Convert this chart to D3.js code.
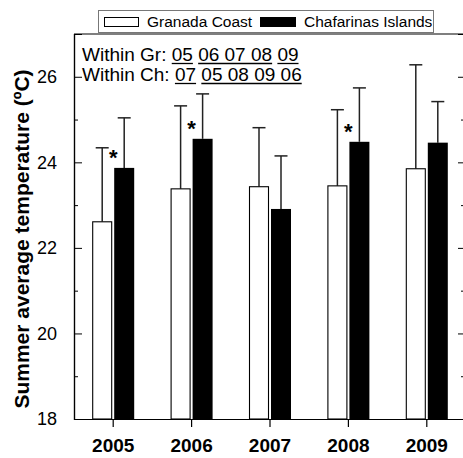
<!DOCTYPE html>
<html>
<head>
<meta charset="utf-8">
<script src="https://cdn.jsdelivr.net/npm/d3@7"></script>
<style>
  html, body { margin: 0; padding: 0; background: #fff; }
  svg { display: block; }
  text { font-family: "Liberation Sans", Arial, Helvetica, sans-serif; }
</style>
</head>
<body>
<svg id="chart" width="463" height="458"></svg>
<script>
// ---- data ----
const years = ["2005", "2006", "2007", "2008", "2009"];
const granadaMean = [22.61, 23.38, 23.43, 23.45, 23.85];
const granadaErr  = [1.73, 1.94, 1.38, 1.78, 2.43];
const chafMean    = [23.87, 24.55, 22.91, 24.48, 24.46];
const chafErr     = [1.17, 1.05, 1.24, 1.26, 0.96];
const significant = [true, true, false, true, false];
const seriesNames = ["Granada Coast", "Chafarinas Islands"];
const yMajorTicks = [18, 20, 22, 24, 26];
const yMinorTicks = [19, 21, 23, 25];
const withinGr = [["05"], ["06", "07", "08"], ["09"]];
const withinCh = [["07"], ["05", "08", "09", "06"]];

(function () {
// ---- layout ----
const svg = d3.select("#chart");
const pLeft = 74, pRight = 466, pTop = 34, pBottom = 419;

const x = d3.scaleBand().domain(years).range([pLeft, pRight]).padding(0);
const y = d3.scaleLinear().domain([18, 27]).range([pBottom, pTop]);

const barW = 20, gap = 1;

// frame top line
svg.append("line").attr("x1", pLeft).attr("x2", pRight).attr("y1", pTop).attr("y2", pTop)
  .attr("stroke", "#000").attr("stroke-width", 1.2);

// left axis (inner ticks)
const gL = svg.append("g").attr("transform", `translate(${pLeft},0)`);
gL.call(d3.axisLeft(y).tickValues(yMajorTicks).tickSize(-8).tickPadding(17).tickFormat(d3.format("d")));
gL.append("g").call(d3.axisLeft(y).tickValues(yMinorTicks).tickSize(-4).tickFormat(""));
gL.selectAll(".domain").attr("stroke-width", 1.2);
gL.selectAll("text").attr("font-size", 18).attr("fill", "#000")
  .style("font-family", '"Liberation Sans", Arial, sans-serif');

// right axis (inner ticks, no labels)
const gR = svg.append("g").attr("transform", `translate(${pRight},0)`);
gR.call(d3.axisRight(y).tickValues(yMajorTicks).tickSize(-8).tickFormat(""));
gR.append("g").call(d3.axisRight(y).tickValues(yMinorTicks).tickSize(-5).tickFormat(""));

// bottom axis
const gB = svg.append("g").attr("transform", `translate(0,${pBottom})`);
gB.call(d3.axisBottom(x).tickSize(8).tickPadding(12).tickSizeOuter(0));
gB.selectAll(".domain").attr("stroke-width", 1.2);
gB.selectAll("text").attr("font-size", 19).attr("font-weight", "bold").attr("fill", "#000")
  .style("font-family", '"Liberation Sans", Arial, sans-serif');
gB.selectAll(".tick line").attr("stroke-width", 1.2);

// bars
const cx = d => x(d) + x.bandwidth() / 2;
const gBars = svg.append("g");
years.forEach((yr, i) => {
  const c = cx(yr);
  // Granada (white)
  const wx = c - gap - barW;
  gBars.append("line")
    .attr("x1", wx + barW / 2).attr("x2", wx + barW / 2)
    .attr("y1", y(granadaMean[i])).attr("y2", y(granadaMean[i] + granadaErr[i]))
    .attr("stroke", "#222").attr("stroke-width", 1.5);
  gBars.append("line")
    .attr("x1", wx + barW / 2 - 6.5).attr("x2", wx + barW / 2 + 6.5)
    .attr("y1", y(granadaMean[i] + granadaErr[i])).attr("y2", y(granadaMean[i] + granadaErr[i]))
    .attr("stroke", "#222").attr("stroke-width", 1.5);
  gBars.append("rect")
    .attr("x", wx + 0.5).attr("y", y(granadaMean[i]))
    .attr("width", barW - 1).attr("height", y(18) - y(granadaMean[i]))
    .attr("fill", "#fff").attr("stroke", "#000").attr("stroke-width", 1.1);
  // Chafarinas (black)
  const bx = c + gap;
  gBars.append("line")
    .attr("x1", bx + barW / 2).attr("x2", bx + barW / 2)
    .attr("y1", y(chafMean[i])).attr("y2", y(chafMean[i] + chafErr[i]))
    .attr("stroke", "#222").attr("stroke-width", 1.5);
  gBars.append("line")
    .attr("x1", bx + barW / 2 - 6.5).attr("x2", bx + barW / 2 + 6.5)
    .attr("y1", y(chafMean[i] + chafErr[i])).attr("y2", y(chafMean[i] + chafErr[i]))
    .attr("stroke", "#222").attr("stroke-width", 1.5);
  gBars.append("rect")
    .attr("x", bx).attr("y", y(chafMean[i]))
    .attr("width", barW).attr("height", y(18) - y(chafMean[i]))
    .attr("fill", "#000");
  // significance asterisk
  if (significant[i]) {
    gBars.append("text")
      .attr("x", c).attr("y", y(chafMean[i]) - 14 + 11.5)
      .attr("text-anchor", "middle").attr("font-size", 22).attr("font-weight", "bold")
      .text("*");
  }
});

// y-axis title
svg.append("text")
  .attr("transform", "translate(29,239) rotate(-90)")
  .attr("text-anchor", "middle").attr("font-size", 21).attr("font-weight", "bold")
  .text("Summer average temperature (\u00BAC)");

// legend
const lg = svg.append("g");
lg.append("rect").attr("x", 98.5).attr("y", 10.5).attr("width", 335).attr("height", 22)
  .attr("fill", "#fff").attr("stroke", "#777").attr("stroke-width", 1);
lg.append("rect").attr("x", 104.5).attr("y", 17.5).attr("width", 34).attr("height", 9)
  .attr("fill", "#fff").attr("stroke", "#000").attr("stroke-width", 1);
lg.append("text").attr("x", 147).attr("y", 26.5).attr("font-size", 15.5).text(seriesNames[0]);
lg.append("rect").attr("x", 260).attr("y", 17).attr("width", 36).attr("height", 10)
  .attr("fill", "#000");
lg.append("text").attr("x", 304).attr("y", 26.5).attr("font-size", 15.5).text(seriesNames[1]);

// within-group annotations with underlines
function annot(label, groups, baseY) {
  const str = label + groups.map(g => g.join(" ")).join(" ");
  const t = svg.append("text").attr("x", 82).attr("y", baseY).attr("font-size", 19).text(str);
  const node = t.node();
  let idx = label.length;
  groups.forEach(g => {
    const s = g.join(" ");
    const x0 = 82 + node.getSubStringLength(0, idx);
    const w = node.getSubStringLength(idx, s.length);
    svg.append("line").attr("x1", x0).attr("x2", x0 + w)
      .attr("y1", baseY + 2.5).attr("y2", baseY + 2.5)
      .attr("stroke", "#000").attr("stroke-width", 1.3);
    idx += s.length + 1;
  });
}
annot("Within Gr: ", withinGr, 61);
annot("Within Ch: ", withinCh, 81);
})();
</script>
</body>
</html>
